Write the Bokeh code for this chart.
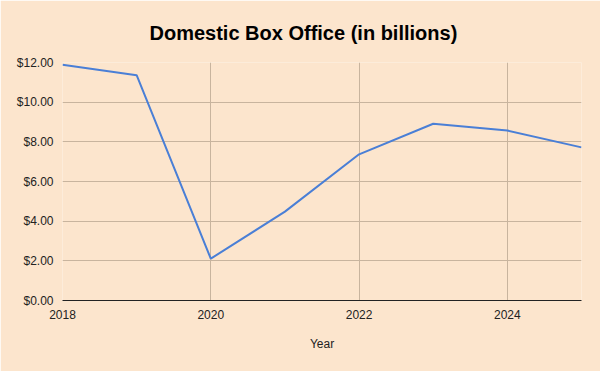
from bokeh.plotting import figure
from bokeh.models import NumeralTickFormatter, FixedTicker, Range1d
from bokeh.embed import file_html
from bokeh.resources import INLINE

years = [2018, 2019, 2020, 2021, 2022, 2023, 2024, 2025]
box_office = [11.89, 11.36, 2.11, 4.48, 7.37, 8.91, 8.57, 7.72]
x_ticks = [2018, 2020, 2022, 2024]
y_ticks = [0, 2, 4, 6, 8, 10, 12]

BG = "#fce5cd"
GRID = "#c8b49e"
FONT = "Liberation Sans"

p = figure(width=600, height=371, output_backend="svg", toolbar_location=None,
           x_range=Range1d(2018, 2025), y_range=Range1d(0, 12),
           title="Domestic Box Office (in billions)")
p.background_fill_color = BG
p.border_fill_color = BG
p.outline_line_color = None
p.min_border_left = 62
p.min_border_right = 19
p.min_border_top = 62
p.min_border_bottom = 71

p.title.text_font = FONT
p.title.text_font_size = "20px"
p.title.text_font_style = "bold"
p.title.text_color = "#000000"
p.title.align = "left"
p.title.offset = 87
p.title.standoff = 38

p.line(years, box_office, line_color="#4a7fd6", line_width=2)

p.xaxis.ticker = FixedTicker(ticks=x_ticks)
p.yaxis.ticker = FixedTicker(ticks=y_ticks)
p.yaxis.formatter = NumeralTickFormatter(format="$0.00")
p.xgrid.ticker = FixedTicker(ticks=x_ticks)
p.ygrid.ticker = FixedTicker(ticks=y_ticks)
p.xgrid.grid_line_color = GRID
p.ygrid.grid_line_color = GRID
p.xgrid.grid_line_width = 1
p.ygrid.grid_line_width = 1

for ax in (p.xaxis[0], p.yaxis[0]):
    ax.major_tick_line_color = None
    ax.minor_tick_line_color = None
    ax.major_label_text_font = FONT
    ax.major_label_text_font_size = "12px"
    ax.major_label_text_color = "#222222"
    ax.axis_label_text_font = FONT
    ax.axis_label_text_font_size = "12px"
    ax.axis_label_text_font_style = "normal"
    ax.axis_label_text_color = "#222222"

p.yaxis.axis_line_color = None
p.yaxis.major_label_standoff = 3
p.xaxis.axis_line_color = "#222222"
p.xaxis.axis_line_width = 1.2
p.xaxis.major_label_standoff = 3
p.xaxis.axis_label = "Year"
p.xaxis.axis_label_standoff = 15

open("out.html", "w").write(file_html(p, INLINE))
